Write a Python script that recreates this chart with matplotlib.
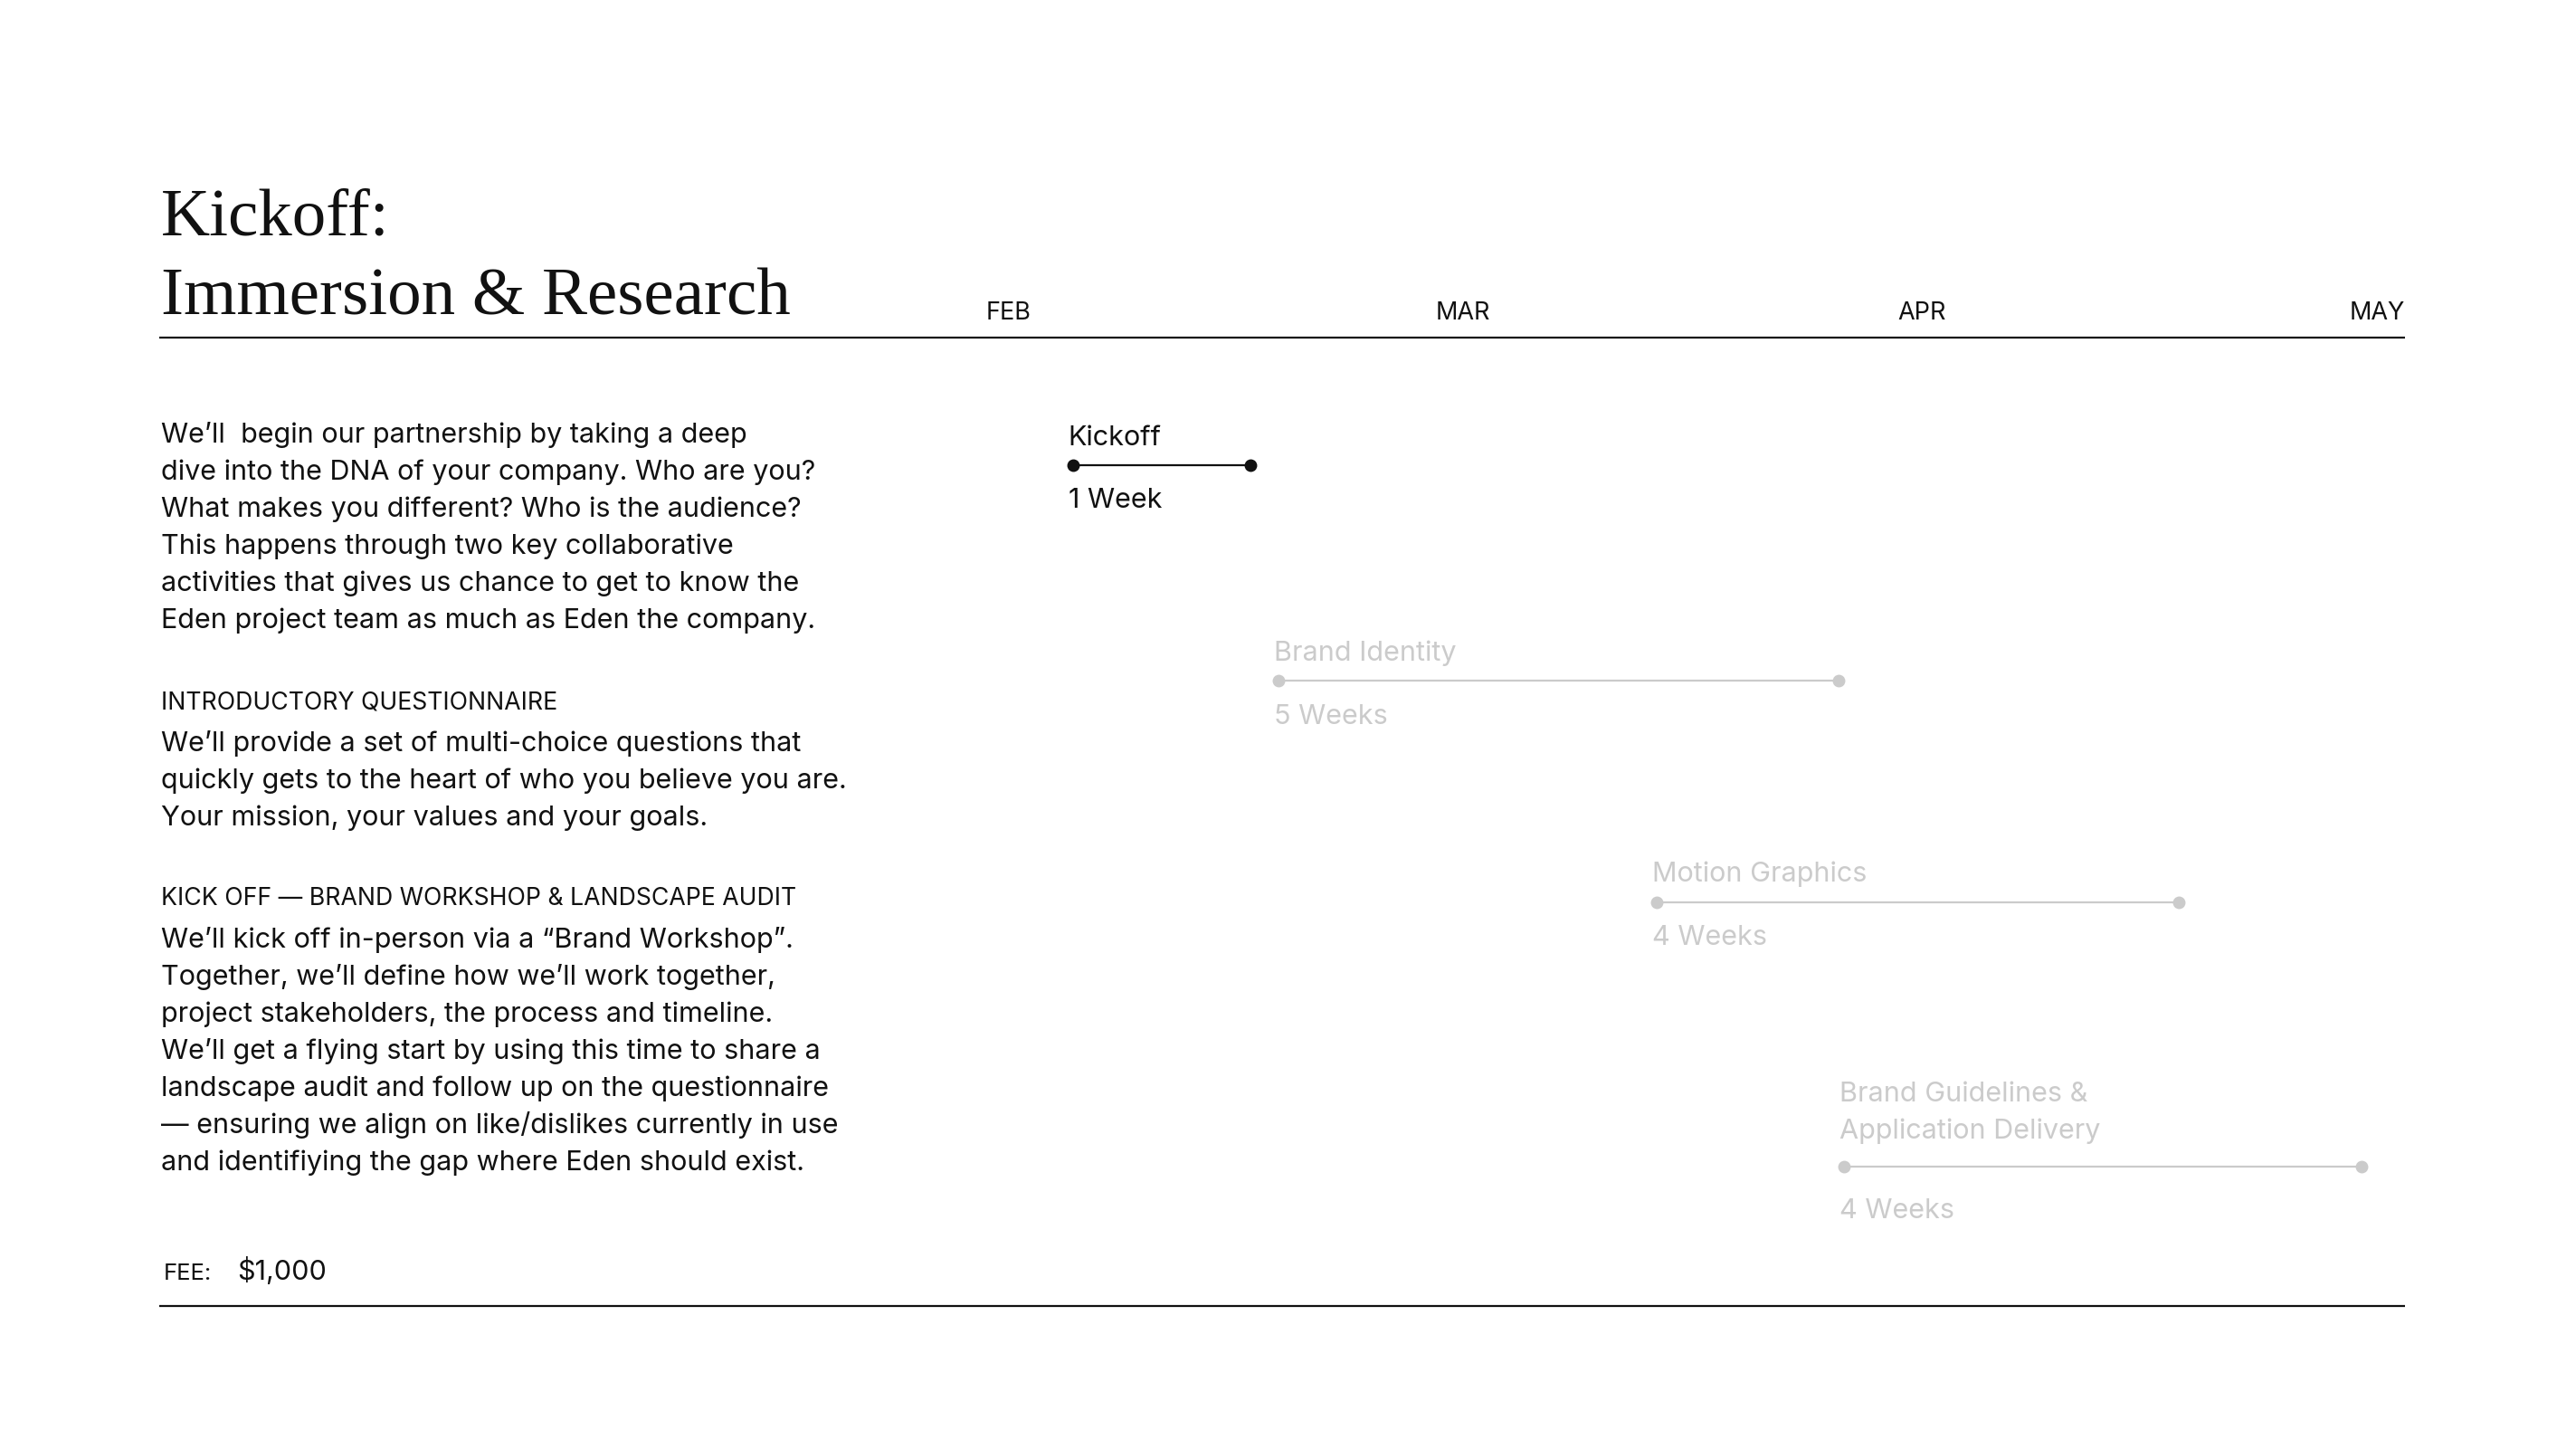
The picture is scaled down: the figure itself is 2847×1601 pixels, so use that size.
import matplotlib
matplotlib.use("Agg")
import matplotlib.pyplot as plt

# ---------------- data ----------------
months = ["FEB", "MAR", "APR", "MAY"]
month_pos = [0.0, 0.986, 1.998, 3.0]       # month tick positions
phases = ["Kickoff", "Brand Identity", "Motion Graphics", "Brand Guidelines &\nApplication Delivery"]
durations = ["1 Week", "5 Weeks", "4 Weeks", "4 Weeks"]
phase_start = [0.19, 0.64, 1.47, 1.88]     # in months from start of FEB
phase_end = [0.58, 1.87, 2.615, 3.015]
phase_active = [True, False, False, False]

title_lines = ["Kickoff:", "Immersion & Research"]
intro_para = [
    "We\u2019ll  begin our partnership by taking a deep",
    "dive into the DNA of your company. Who are you?",
    "What makes you different? Who is the audience?",
    "This happens through two key collaborative",
    "activities that gives us chance to get to know the",
    "Eden project team as much as Eden the company.",
]
section1_head = "INTRODUCTORY QUESTIONNAIRE"
section1_body = [
    "We\u2019ll provide a set of multi-choice questions that",
    "quickly gets to the heart of who you believe you are.",
    "Your mission, your values and your goals.",
]
section2_head = "KICK OFF \u2014 BRAND WORKSHOP & LANDSCAPE AUDIT"
section2_body = [
    "We\u2019ll kick off in-person via a \u201cBrand Workshop\u201d.",
    "Together, we\u2019ll define how we\u2019ll work together,",
    "project stakeholders, the process and timeline.",
    "We\u2019ll get a flying start by using this time to share a",
    "landscape audit and follow up on the questionnaire",
    "\u2014 ensuring we align on like/dislikes currently in use",
    "and identifiying the gap where Eden should exist.",
]
fee_label = "FEE:"
fee_value = "$1,000"

# ---------------- layout / style ----------------
W, H = 2847, 1601
BLACK = "#111111"
GREY = "#cbcbcb"
SANS = ["Inter", "DejaVu Sans"]
SERIF = ["Liberation Serif", "DejaVu Serif"]

plt.rcParams["font.family"] = SANS

fig = plt.figure(figsize=(W / 100, H / 100), dpi=100)
fig.patch.set_facecolor("white")
ax = fig.add_axes([0, 0, 1, 1])
ax.set_axis_off()

# x axis in months: month 0 sits at pixel 1090, 504 px per month
X0, PPM = 1090.0, 504.0
ax.set_xlim(-X0 / PPM, (W - X0) / PPM)
ax.set_ylim(H, 0)


def mx(px):
    return (px - X0) / PPM


def ftext(x, y, s, **kw):
    fig.text(x / W, 1 - y / H, s, va="baseline", ha="left", **kw)


# title
for s, yb in zip(title_lines, [260, 347]):
    ftext(178, yb, s, fontsize=54, family=SERIF, color=BLACK)

# rules
rule_left, rule_right = mx(176), mx(2658)
ax.hlines([373, 1443], rule_left, rule_right, color=BLACK, lw=1.6)

# month labels
for i, m in enumerate(months):
    if i == len(months) - 1:
        ax.text(rule_right, 353, m, ha="right", va="baseline", fontsize=19.5, color=BLACK)
    else:
        ax.text(month_pos[i], 353, m, ha="left", va="baseline", fontsize=19.5, color=BLACK)

# left column text
BODY = 22
HEAD = 19.2
LS = 41
for k, s in enumerate(intro_para):
    ftext(178, 489 + k * LS, s, fontsize=BODY, color=BLACK)
ftext(178, 783, section1_head, fontsize=HEAD, color=BLACK)
for k, s in enumerate(section1_body):
    ftext(178, 830 + k * LS, s, fontsize=BODY, color=BLACK)
ftext(178, 1000, section2_head, fontsize=HEAD, color=BLACK)
for k, s in enumerate(section2_body):
    ftext(178, 1047 + k * LS, s, fontsize=BODY, color=BLACK)
ftext(181, 1414, fee_label, fontsize=18.5, color=BLACK)
ftext(262, 1414, fee_value, fontsize=BODY, color=BLACK)

# timeline phases
row_y = [514, 752, 997, 1289]
label_gap = [22, 22, 23, 31]
dur_gap = [47, 48, 47, 57]
for i, name in enumerate(phases):
    c = BLACK if phase_active[i] else GREY
    y = row_y[i]
    ax.plot([phase_start[i], phase_end[i]], [y, y], color=c, lw=1.6,
            marker="o", markersize=9, markerfacecolor=c, markeredgecolor=c,
            solid_capstyle="butt")
    lx = phase_start[i] - 5 / PPM
    lines = name.split("\n")
    for j, ln in enumerate(reversed(lines)):
        ax.text(lx, y - label_gap[i] - j * LS, ln, ha="left", va="baseline",
                fontsize=22, color=c)
    ax.text(lx, y + dur_gap[i], durations[i], ha="left", va="baseline",
            fontsize=22, color=c)

fig.savefig("out.png", dpi=100, facecolor="white")
